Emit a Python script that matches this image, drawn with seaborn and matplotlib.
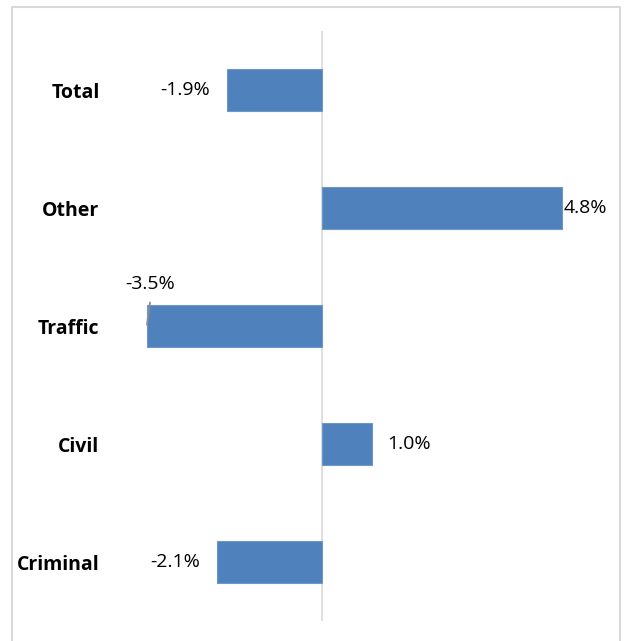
import matplotlib.pyplot as plt
import seaborn as sns
import pandas as pd
from matplotlib.patches import Rectangle

# ---- data ----
categories = ["Total", "Other", "Traffic", "Civil", "Criminal"]
pct_change = [-1.9, 4.8, -3.5, 1.0, -2.1]
value_labels = ["-1.9%", "4.8%", "-3.5%", "1.0%", "-2.1%"]

df = pd.DataFrame({"category": categories, "change": pct_change})

sns.set_theme(style="white")
plt.rcParams["font.family"] = ["Open Sans", "DejaVu Sans"]

fig = plt.figure(figsize=(6.25, 6.41), dpi=100)
ax = fig.add_axes([112 / 625, 1 - 621 / 641, 500 / 625, 590 / 641])

sns.barplot(data=df, x="change", y="category", orient="h", color="#4F81BD",
            width=0.356, saturation=1, edgecolor="#6E97C8", linewidth=0.8, ax=ax)

ax.set_xlim(-4.2, 5.8)
ax.set_ylim(4.5, -0.5)
ax.axvline(0, color="#D9D9D9", lw=1.2, zorder=0)

for s in ax.spines.values():
    s.set_visible(False)
ax.set_xticks([])
ax.set_xlabel("")
ax.set_ylabel("")
ax.tick_params(axis="y", length=0, pad=9)
for t in ax.get_yticklabels():
    t.set_fontweight("bold")
    t.set_fontsize(14)
    t.set_color("black")

# value labels
fs = 14
for i, (v, lab) in enumerate(zip(pct_change, value_labels)):
    if lab == "-3.5%":
        # label dragged above the bar, with a small leader line
        ax.text(v + 0.06, i - 0.36, lab, ha="center", va="center", fontsize=fs, color="black")
        ax.plot([v + 0.06, v], [i - 0.2, i - 0.01], color="#8C8C8C", lw=1.3)
    elif v < 0:
        ax.annotate(lab, (v, i), xytext=(-12, 0), textcoords="offset points",
                    ha="right", va="center", fontsize=fs, color="black")
    elif v > 2:
        ax.annotate(lab, (v, i), xytext=(1, 0), textcoords="offset points",
                    ha="left", va="center", fontsize=fs, color="black")
    else:
        ax.annotate(lab, (v, i), xytext=(11, 0), textcoords="offset points",
                    ha="left", va="center", fontsize=fs, color="black")

# outer chart frame
fig.patches.append(Rectangle((12 / 625, -0.05), 608 / 625, 1.05 - 7 / 641,
                             transform=fig.transFigure, fill=False,
                             edgecolor="#D9D9D9", lw=1.5))

fig.savefig("out.png", dpi=100)
